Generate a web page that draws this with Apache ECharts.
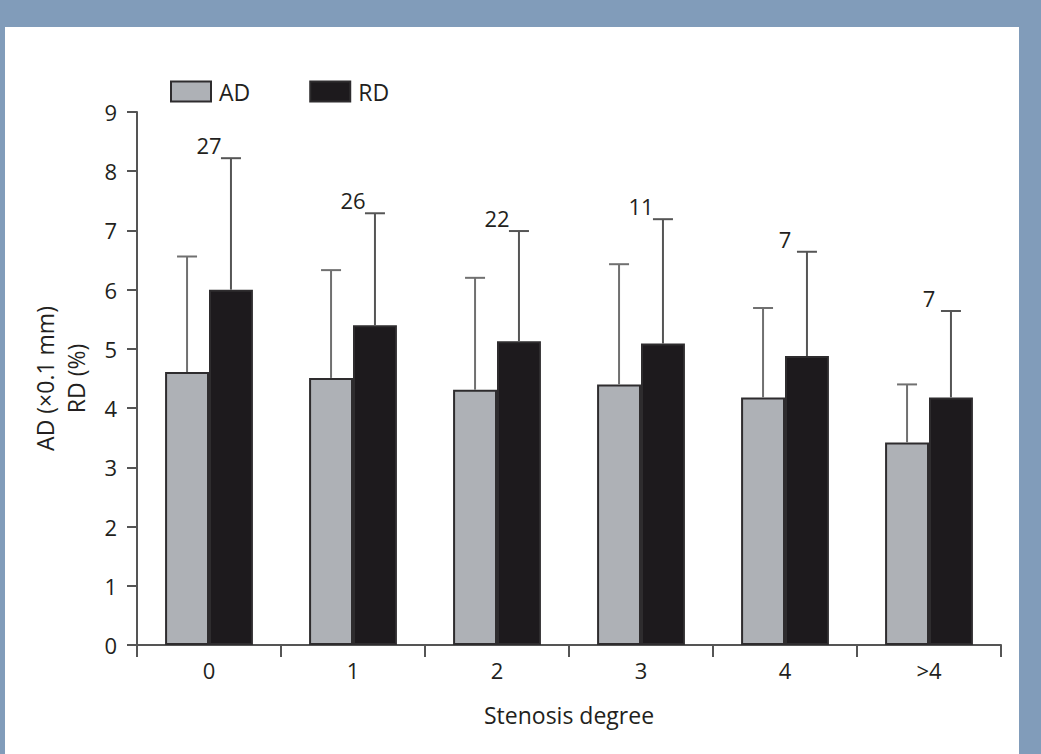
<!DOCTYPE html>
<html>
<head>
<meta charset="utf-8">
<script src="https://cdn.jsdelivr.net/npm/echarts@6/dist/echarts.min.js"></script>
<style>
  html, body { margin: 0; padding: 0; width: 1041px; height: 754px; background: #819cba; overflow: hidden; }
  #chart { position: absolute; left: 5px; top: 27px; width: 1014px; height: 727px; background: #ffffff; }
</style>
</head>
<body>
<div id="chart"></div>
<script>
const categories = ['0', '1', '2', '3', '4', '>4'];
const adMean  = [4.61, 4.51, 4.31, 4.40, 4.18, 3.42];
const adUpper = [6.56, 6.33, 6.20, 6.43, 5.69, 4.40];
const rdMean  = [6.00, 5.40, 5.13, 5.09, 4.88, 4.18];
const rdUpper = [8.22, 7.29, 6.99, 7.19, 6.64, 5.64];
const nLabels = ['27', '26', '22', '11', '7', '7'];

const FONT = 'Open Sans';
const TXT = '#231f20';
const BAR_FRAC = 0.305;

function errData(mean, upper) {
  return categories.map((c, i) => [i, mean[i], upper[i]]);
}

function makeErr(sign, color, withLabel) {
  return function (params, api) {
    const i = api.value(0);
    const base = api.coord([i, api.value(1)]);
    const top = api.coord([i, api.value(2)]);
    const bw = api.size([1, 0])[0];
    const x = base[0] + sign * bw * BAR_FRAC / 2;
    const children = [
      { type: 'line', shape: { x1: x, y1: base[1], x2: x, y2: top[1] },
        style: { stroke: color, lineWidth: 2 } },
      { type: 'line', shape: { x1: x - 10, y1: top[1], x2: x + 10, y2: top[1] },
        style: { stroke: color, lineWidth: 2 } }
    ];
    if (withLabel) {
      children.push({ type: 'text', x: base[0], y: top[1] - 13,
        style: { text: nLabels[params.dataIndex], fill: TXT, font: '22px "' + FONT + '"',
                 align: 'center', verticalAlign: 'middle' } });
    }
    return { type: 'group', children: children };
  };
}

const chart = echarts.init(document.getElementById('chart'), null, { renderer: 'svg' });
chart.setOption({
  animation: false,
  textStyle: { fontFamily: FONT },
  grid: { left: 132, right: 18, top: 85, bottom: 109, containLabel: false },
  legend: {
    left: 160, top: 48,
    itemWidth: 40, itemHeight: 20, itemGap: 59,
    icon: 'rect',
    textStyle: { fontSize: 23, color: TXT, fontFamily: FONT, padding: [0, 0, 0, 3] },
    data: ['AD', 'RD']
  },
  xAxis: {
    type: 'category',
    data: categories,
    name: 'Stenosis degree',
    nameLocation: 'middle',
    nameGap: 58,
    nameTextStyle: { fontSize: 23, color: TXT, fontFamily: FONT },
    axisLine: { lineStyle: { color: '#555555', width: 2 } },
    axisTick: { show: true, length: 12, lineStyle: { color: '#555555', width: 2 } },
    axisLabel: { fontSize: 22, color: TXT, margin: 14, fontFamily: FONT },
    splitLine: { show: false }
  },
  yAxis: {
    type: 'value',
    min: 0, max: 9, interval: 1,
    name: 'AD (×0.1 mm)\nRD (%)',
    nameLocation: 'middle',
    nameRotate: 90,
    nameGap: 46,
    nameTextStyle: { fontSize: 23, color: TXT, fontFamily: FONT, lineHeight: 31 },
    axisLine: { show: true, lineStyle: { color: '#555555', width: 2 } },
    axisTick: { show: true, inside: false, length: 10, lineStyle: { color: '#555555', width: 2 } },
    axisLabel: { fontSize: 22, color: TXT, margin: 20, fontFamily: FONT },
    splitLine: { show: false }
  },
  series: [
    { name: 'AD', type: 'bar', data: adMean, barWidth: (BAR_FRAC * 100) + '%', barGap: '0%',
      itemStyle: { color: '#aeb1b6', borderColor: '#2e2c2e', borderWidth: 2 } },
    { name: 'RD', type: 'bar', data: rdMean, barWidth: (BAR_FRAC * 100) + '%', barGap: '0%',
      itemStyle: { color: '#1d1a1d', borderColor: '#2e2c2e', borderWidth: 2 } },
    { name: 'AD err', type: 'custom', data: errData(adMean, adUpper), z: 5,
      renderItem: makeErr(-1, '#707070', false), silent: true },
    { name: 'RD err', type: 'custom', data: errData(rdMean, rdUpper), z: 5,
      renderItem: makeErr(1, '#555555', true), silent: true }
  ]
});
</script>
</body>
</html>
